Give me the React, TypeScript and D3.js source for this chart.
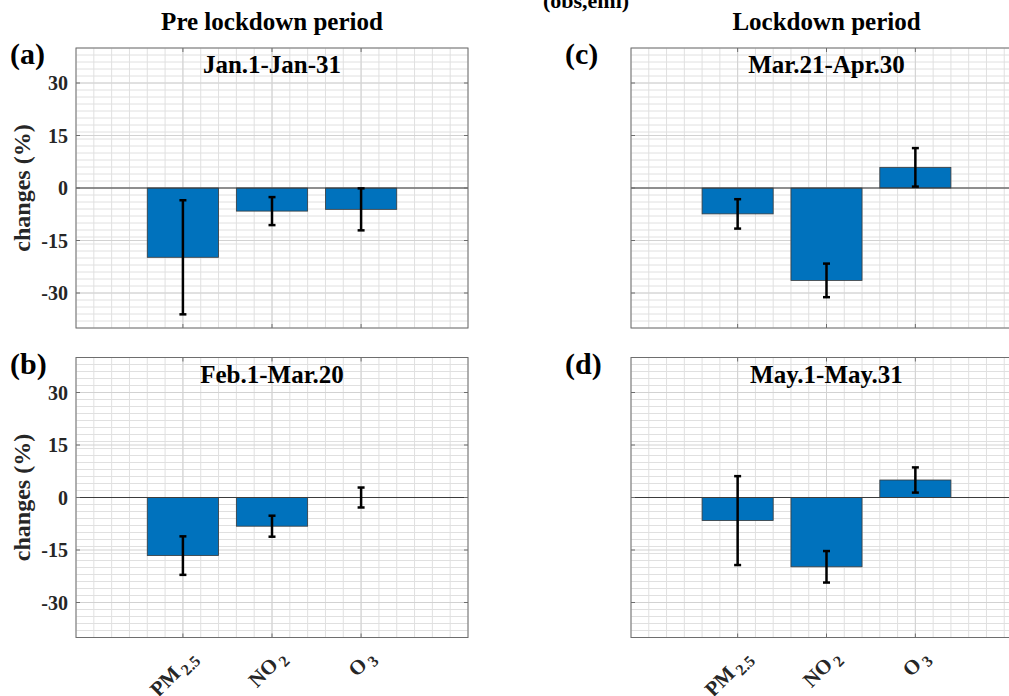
import React from "react";
import * as d3 from "d3";

// ---- data ----
const categoryMain = ["PM", "NO", "O"];
const categorySub = ["2.5", "2", "3"];
const categoryPos = [1, 2, 3];
const yTickValues = [-30, -15, 0, 15, 30];
const columnTitles = ["Pre lockdown period", "Lockdown period"];
const panelLetters = ["(a)", "(b)", "(c)", "(d)"];
const periodLabels = ["Jan.1-Jan-31", "Feb.1-Mar.20", "Mar.21-Apr.30", "May.1-May.31"];

const valuesA = [-19.8, -6.6, -6.1];
const errorsA = [16.3, 4.0, 6.0];
const valuesB = [-16.6, -8.2, 0.0];
const errorsB = [5.5, 3.0, 2.85];
const valuesC = [-7.4, -26.4, 5.9];
const errorsC = [4.2, 4.8, 5.5];
const valuesD = [-6.6, -19.8, 5.0];
const errorsD = [12.7, 4.5, 3.6];

const FONT = "'Liberation Serif', 'Times New Roman', serif";
const W = 1009;
const H = 696;

type PanelSpec = {
  x0: number; x1: number; y0: number; y1: number;
  values: number[]; errors: number[]; letter: string; period: string;
  showY: boolean; showX: boolean;
};

const panels: PanelSpec[] = [
  { x0: 76, x1: 468, y0: 48, y1: 328, values: valuesA, errors: errorsA, letter: panelLetters[0], period: periodLabels[0], showY: true, showX: false },
  { x0: 76, x1: 468, y0: 357.5, y1: 637.5, values: valuesB, errors: errorsB, letter: panelLetters[1], period: periodLabels[1], showY: true, showX: true },
  { x0: 631, x1: 1022, y0: 48, y1: 328, values: valuesC, errors: errorsC, letter: panelLetters[2], period: periodLabels[2], showY: false, showX: false },
  { x0: 631, x1: 1022, y0: 357.5, y1: 637.5, values: valuesD, errors: errorsD, letter: panelLetters[3], period: periodLabels[3], showY: false, showX: true },
];

function Panel({ p }: { p: PanelSpec }) {
  const x = d3.scaleLinear().domain([-0.2, 4.2]).range([p.x0, p.x1]);
  const y = d3.scaleLinear().domain([-40, 40]).range([p.y1, p.y0]);
  const minorX = d3.range(-1, 22).map((i) => i * 0.2);
  const minorY = d3.range(-20, 21).map((i) => i * 2);
  const barW = x(0.8) - x(0);
  const capW = 7;
  const tickLen = 4;
  return (
    <g>
      {/* minor grid */}
      {minorX.map((v, i) => (
        <line key={"mx" + i} x1={x(v)} x2={x(v)} y1={p.y0} y2={p.y1} stroke="#e0e0e0" strokeWidth={1} />
      ))}
      {minorY.map((v, i) => (
        <line key={"my" + i} x1={p.x0} x2={p.x1} y1={y(v)} y2={y(v)} stroke="#e0e0e0" strokeWidth={1} />
      ))}
      {/* major grid */}
      {categoryPos.map((v, i) => (
        <line key={"Mx" + i} x1={x(v)} x2={x(v)} y1={p.y0} y2={p.y1} stroke="#d2d2d2" strokeWidth={1} />
      ))}
      {yTickValues.map((v, i) => (
        <line key={"My" + i} x1={p.x0} x2={p.x1} y1={y(v)} y2={y(v)} stroke="#d2d2d2" strokeWidth={1} />
      ))}
      {/* bars */}
      {p.values.map((v, i) => (
        <rect key={"b" + i} x={x(categoryPos[i]) - barW / 2} width={barW}
          y={Math.min(y(v), y(0))} height={Math.abs(y(v) - y(0))}
          fill="#0072BD" stroke="#3a3a3a" strokeWidth={0.8} />
      ))}
      {/* baseline */}
      <line x1={p.x0} x2={p.x1} y1={y(0)} y2={y(0)} stroke="#3c3c3c" strokeWidth={1} />
      {/* error bars */}
      {p.values.map((v, i) => {
        const cx = x(categoryPos[i]);
        const lo = y(v - p.errors[i]);
        const hi = y(v + p.errors[i]);
        return (
          <g key={"e" + i} stroke="#000" strokeWidth={2.5}>
            <line x1={cx} x2={cx} y1={hi} y2={lo} />
            <line x1={cx - capW / 2} x2={cx + capW / 2} y1={hi} y2={hi} />
            <line x1={cx - capW / 2} x2={cx + capW / 2} y1={lo} y2={lo} />
          </g>
        );
      })}
      {/* axes box */}
      <rect x={p.x0} y={p.y0} width={p.x1 - p.x0} height={p.y1 - p.y0} fill="none" stroke="#6e6e6e" strokeWidth={1} />
      {/* ticks */}
      {categoryPos.map((v, i) => (
        <g key={"tx" + i} stroke="#6e6e6e">
          <line x1={x(v)} x2={x(v)} y1={p.y1} y2={p.y1 - tickLen} />
          <line x1={x(v)} x2={x(v)} y1={p.y0} y2={p.y0 + tickLen} />
        </g>
      ))}
      {yTickValues.map((v, i) => (
        <g key={"ty" + i} stroke="#6e6e6e">
          <line x1={p.x0} x2={p.x0 + tickLen} y1={y(v)} y2={y(v)} />
          <line x1={p.x1} x2={p.x1 - tickLen} y1={y(v)} y2={y(v)} />
        </g>
      ))}
      {/* y tick labels */}
      {p.showY && yTickValues.map((v, i) => (
        <text key={"yl" + i} x={p.x0 - 8} y={y(v)} dy="0.35em" textAnchor="end"
          fontFamily={FONT} fontWeight="bold" fontSize={20} fill="#262626">{v}</text>
      ))}
      {p.showY && (
        <text transform={`translate(30,${(p.y0 + p.y1) / 2}) rotate(-90)`} textAnchor="middle"
          fontFamily={FONT} fontWeight="bold" fontSize={24} fill="#262626">changes (%)</text>
      )}
      {/* x tick labels */}
      {p.showX && categoryPos.map((v, i) => (
        <text key={"xl" + i} transform={`translate(${x(v) + 15},${p.y1 + 21}) rotate(-45)`} textAnchor="end"
          fontFamily={FONT} fontWeight="bold" fontSize={21} fill="#262626">
          {categoryMain[i]}
          <tspan fontSize={16} dx={3} dy={5}>{categorySub[i]}</tspan>
        </text>
      ))}
      {/* period label */}
      <text x={(p.x0 + p.x1) / 2} y={p.y0 + 25} textAnchor="middle" fontFamily={FONT}
        fontWeight="bold" fontSize={25} fill="#000">{p.period}</text>
      {/* panel letter */}
      <text x={p.x0 - 66} y={p.y0 + 16} fontFamily={FONT} fontWeight="bold" fontSize={30} fill="#000">{p.letter}</text>
    </g>
  );
}

export default function App() {
  return (
    <svg width={W} height={H} style={{ position: "absolute", left: 0, top: 0, display: "block", background: "#fff" }}>
      <rect x={0} y={0} width={W} height={H} fill="#fff" />
      <text x={586} y={8} textAnchor="middle" fontFamily={FONT} fontWeight="bold" fontSize={22} fill="#000">(obs,emi)</text>
      {panels.map((p, i) => <Panel key={i} p={p} />)}
      <text x={272} y={30} textAnchor="middle" fontFamily={FONT} fontWeight="bold" fontSize={25} fill="#000">{columnTitles[0]}</text>
      <text x={826.5} y={30} textAnchor="middle" fontFamily={FONT} fontWeight="bold" fontSize={25} fill="#000">{columnTitles[1]}</text>
    </svg>
  );
}
